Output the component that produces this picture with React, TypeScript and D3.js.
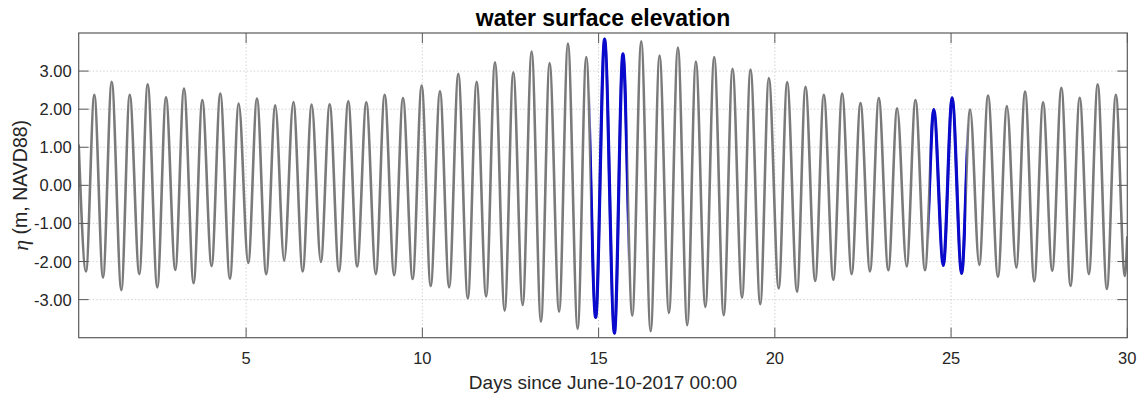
import React from "react";
import * as d3 from "d3";

// Tide extrema (days since June-10-2017 00:00, elevation m NAVD88)
const tideTimes = [
  0.25, 0.457, 0.693, 0.94, 1.186, 1.46, 1.697, 1.97, 2.207, 2.48, 2.727, 2.99, 3.237, 3.51, 3.757,
  4.02, 4.267, 4.54, 4.79, 5.06, 5.308, 5.57, 5.827, 6.08, 6.34, 6.605, 6.86, 7.12, 7.37, 7.634,
  7.898, 8.15, 8.41, 8.68, 8.93, 9.2, 9.45, 9.725, 9.98, 10.236, 10.5, 10.76, 11.02, 11.29, 11.54,
  11.81, 12.06, 12.335, 12.58, 12.846, 13.1, 13.365, 13.61, 13.88, 14.13, 14.406, 14.65, 14.917,
  15.17, 15.45, 15.69, 15.955, 16.21, 16.477, 16.73, 16.996, 17.25, 17.515, 17.76, 18.03, 18.28,
  18.55, 18.8, 19.07, 19.31, 19.587, 19.83, 20.11, 20.35, 20.63, 20.87, 21.146, 21.39, 21.66, 21.91,
  22.18, 22.43, 22.7, 22.95, 23.22, 23.47, 23.74, 23.99, 24.26, 24.51, 24.78, 25.03, 25.3, 25.54,
  25.8, 26.05, 26.33, 26.585, 26.85, 27.1, 27.36, 27.61, 27.87, 28.13, 28.39, 28.65, 28.91, 29.16,
  29.42, 29.675, 29.93, 30.0,
];
const tideLevels = [
  1.07, -2.26, 2.38, -2.42, 2.72, -2.75, 2.38, -2.33, 2.65, -2.68, 2.31, -2.22, 2.54, -2.57, 2.24,
  -2.12, 2.41, -2.45, 2.15, -2.04, 2.28, -2.33, 2.1, -1.98, 2.19, -2.26, 2.12, -2.01, 2.13, -2.26,
  2.21, -2.13, 2.18, -2.33, 2.38, -2.36, 2.29, -2.46, 2.62, -2.64, 2.47, -2.68, 2.93, -2.97, 2.72,
  -2.92, 3.23, -3.29, 2.97, -3.14, 3.51, -3.58, 3.21, -3.32, 3.72, -3.77, 3.37, -3.47,
  3.84, -3.88, 3.45, -3.42, 3.78, -3.83, 3.41, -3.35, 3.62, -3.67, 3.25, -3.19, 3.37,
  -3.41, 3.06, -2.95, 3.04, -3.12, 2.82, -2.71, 2.71, -2.79, 2.59, -2.51, 2.38, -2.48, 2.41,
  -2.33, 2.16, -2.26, 2.29, -2.23, 2.02, -2.13, 2.24, -2.23, 1.99, -2.1, 2.3, -2.31, 1.99,
  -2.09, 2.36, -2.4, 2.08, -2.16, 2.46, -2.52, 2.18, -2.24, 2.56, -2.64, 2.3, -2.33, 2.65,
  -2.72, 2.38, -2.38, -1.34,
];

// Highlighted windows (blue)
const highlightStart = [14.775, 24.388];
const highlightEnd = [15.82, 25.43];

const xTicks = [5, 10, 15, 20, 25, 30];
const yTicks = [-3, -2, -1, 0, 1, 2, 3];
const xDomain = [0.25, 30];
const yDomain = [-4, 4];

const title = "water surface elevation";
const xLabel = "Days since June-10-2017 00:00";

const W = 1143;
const H = 395;
const M = { left: 78.7, right: 1127.3, top: 33, bottom: 337.7 };

export default function App() {
  const x = d3.scaleLinear().domain(xDomain).range([M.left, M.right]);
  const y = d3.scaleLinear().domain(yDomain).range([M.bottom, M.top]);
  const pts = tideTimes.map((t, i) => [t, tideLevels[i]] as [number, number]);
  const line = d3
    .line<[number, number]>()
    .x((d) => x(d[0]))
    .y((d) => y(d[1]))
    .curve(d3.curveMonotoneX);
  const path = line(pts) || "";
  const font = "'Liberation Sans', Arial, Helvetica, sans-serif";
  const axisColor = "#5a5a5a";
  const tickLen = 10;
  const fmt = (v: number) => d3.format(".2f")(v).replace("\u2212", "-");

  return (
    <svg
      width={W}
      height={H}
      style={{ position: "absolute", left: 0, top: 0, background: "#fff" }}
      fontFamily={font}
    >
      <defs>
        <clipPath id="plotClip">
          <rect x={M.left} y={M.top} width={M.right - M.left} height={M.bottom - M.top} />
        </clipPath>
        <clipPath id="hlClip">
          {highlightStart.map((s, i) => (
            <rect
              key={i}
              x={x(s)}
              y={M.top}
              width={x(highlightEnd[i]) - x(s)}
              height={M.bottom - M.top}
            />
          ))}
        </clipPath>
      </defs>
      <rect x={M.left} y={M.top} width={M.right - M.left} height={M.bottom - M.top} fill="#fff" />
      {/* grid */}
      <g stroke="#c8c8c8" strokeWidth={0.8} strokeDasharray="1.5,2">
        {yTicks.map((v) => (
          <line key={"gy" + v} x1={M.left} x2={M.right} y1={y(v)} y2={y(v)} />
        ))}
        {xTicks
          .filter((v) => v < xDomain[1])
          .map((v) => (
            <line key={"gx" + v} x1={x(v)} x2={x(v)} y1={M.top} y2={M.bottom} />
          ))}
      </g>
      {/* data */}
      <g clipPath="url(#plotClip)">
        <path d={path} fill="none" stroke="#7a7a7a" strokeWidth={2.6} strokeLinejoin="round" />
        <path
          d={path}
          fill="none"
          stroke="#0a0acc"
          strokeWidth={3.2}
          strokeLinejoin="round"
          clipPath="url(#hlClip)"
        />
      </g>
      {/* ticks */}
      <g stroke={axisColor} strokeWidth={1}>
        {yTicks.map((v) => (
          <g key={"ty" + v}>
            <line x1={M.left} x2={M.left + tickLen} y1={y(v)} y2={y(v)} />
            <line x1={M.right} x2={M.right - tickLen} y1={y(v)} y2={y(v)} />
          </g>
        ))}
        {xTicks.map((v) => (
          <g key={"tx" + v}>
            <line x1={x(v)} x2={x(v)} y1={M.bottom} y2={M.bottom - tickLen} />
            <line x1={x(v)} x2={x(v)} y1={M.top} y2={M.top + tickLen} />
          </g>
        ))}
      </g>
      <rect
        x={M.left}
        y={M.top}
        width={M.right - M.left}
        height={M.bottom - M.top}
        fill="none"
        stroke={axisColor}
        strokeWidth={1.2}
      />
      {/* tick labels */}
      <g fontSize={16.5} fill="#262626">
        {yTicks.map((v) => (
          <text key={"ly" + v} x={M.left - 7} y={y(v)} textAnchor="end" dominantBaseline="central">
            {fmt(v)}
          </text>
        ))}
        {xTicks.map((v) => (
          <text key={"lx" + v} x={x(v)} y={358} textAnchor="middle" dominantBaseline="central">
            {v}
          </text>
        ))}
      </g>
      <text
        x={(M.left + M.right) / 2}
        y={382}
        textAnchor="middle"
        dominantBaseline="central"
        fontSize={19}
        fill="#262626"
      >
        {xLabel}
      </text>
      <text
        transform={`translate(20, ${(M.top + M.bottom) / 2}) rotate(-90)`}
        textAnchor="middle"
        dominantBaseline="central"
        fontSize={19.5}
        fill="#262626"
      >
        <tspan fontFamily="'Liberation Serif', 'Times New Roman', serif" fontStyle="italic" fontSize={22}>
          η
        </tspan>
        <tspan> (m, NAVD88)</tspan>
      </text>
      <text
        x={(M.left + M.right) / 2}
        y={18}
        textAnchor="middle"
        dominantBaseline="central"
        fontSize={23}
        fontWeight="bold"
        fill="#000"
      >
        {title}
      </text>
    </svg>
  );
}
